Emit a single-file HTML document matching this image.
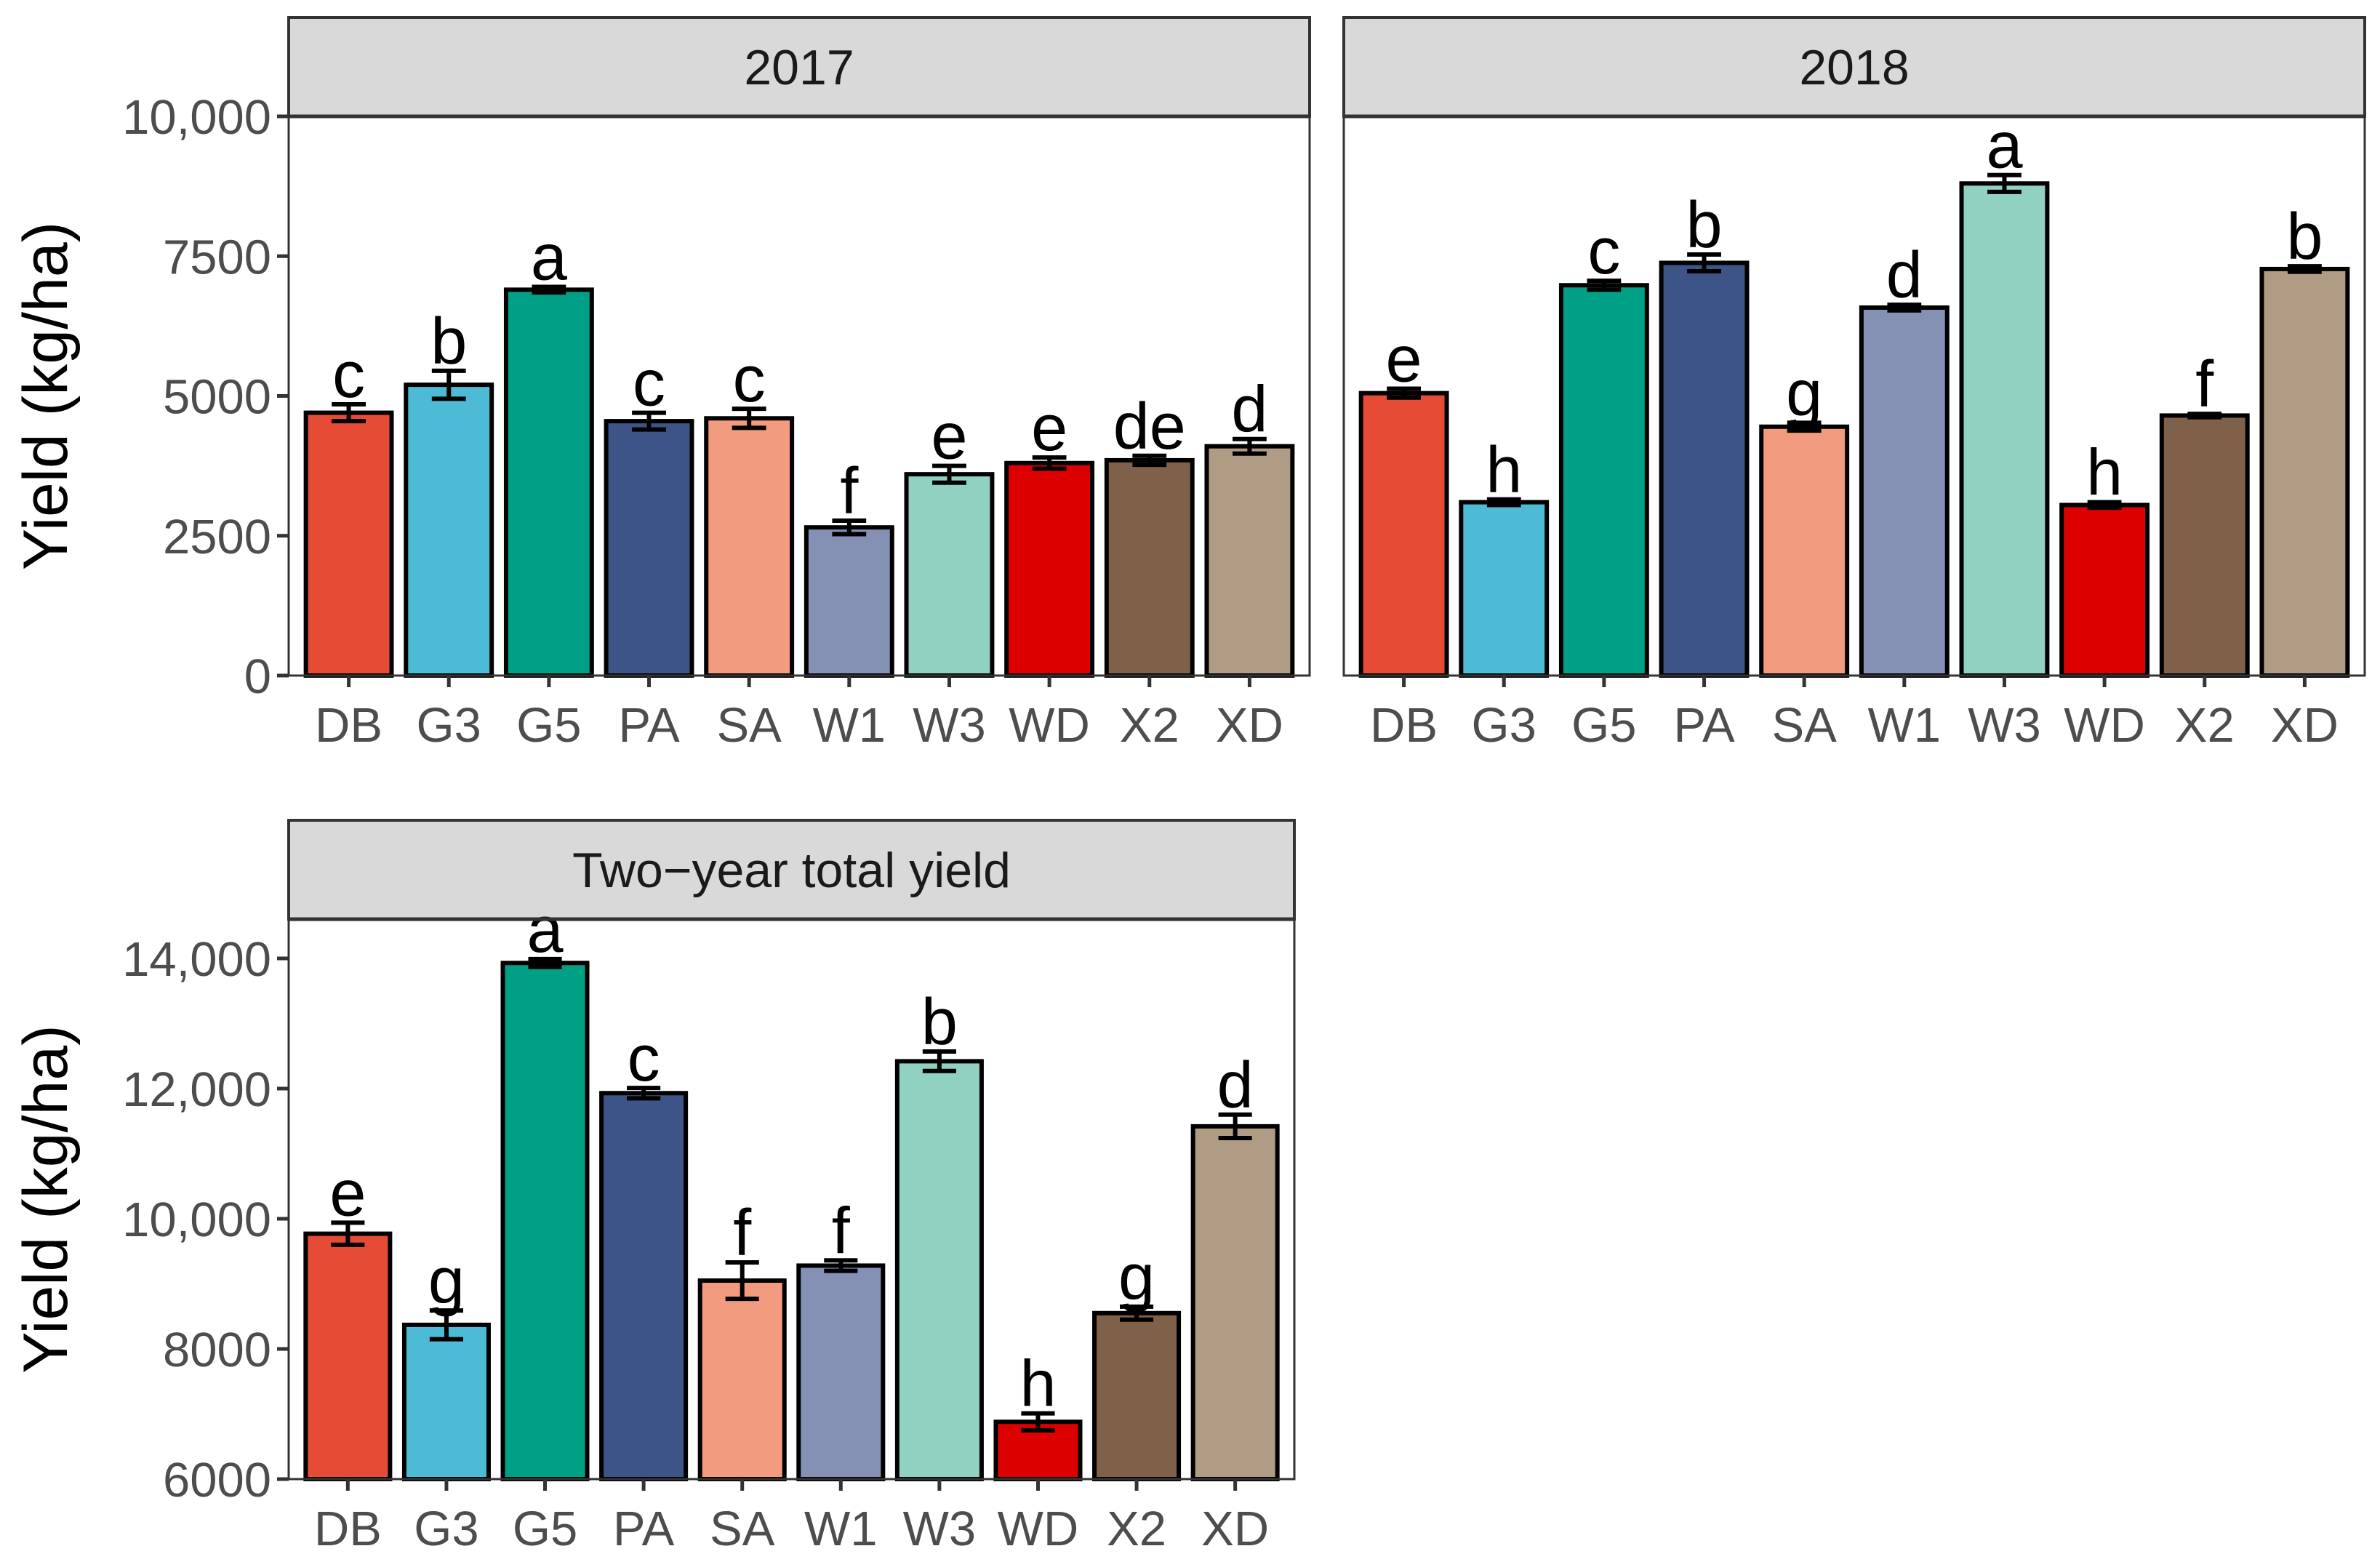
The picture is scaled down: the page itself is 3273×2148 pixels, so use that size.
<!DOCTYPE html>
<html><head><meta charset="utf-8"><style>
html,body{margin:0;padding:0;background:#fff}
svg{display:block}
text{font-family:"Liberation Sans",Arial,sans-serif}
</style></head><body>
<svg id="chart" width="3273" height="2148" viewBox="0 0 3273 2148" xmlns="http://www.w3.org/2000/svg"></svg>
<script>
const categories = ["DB","G3","G5","PA","SA","W1","W3","WD","X2","XD"];
const colors = ["#E64B35","#4DBBD5","#00A087","#3C5488","#F39B7F","#8491B4","#91D1C2","#DC0000","#7E6148","#B09C85"];
const yield2017 = [4700,5200,6900,4550,4600,2650,3600,3800,3850,4100];
const err2017 = [150,250,50,150,170,120,150,100,80,130];
const letters2017 = ["c","b","a","c","c","f","e","e","de","d"];
const yield2018 = [5050,3100,6980,7380,4450,6580,8800,3050,4650,7270];
const err2018 = [80,50,80,150,70,50,150,50,30,50];
const letters2018 = ["e","h","c","b","g","d","a","h","f","b"];
const yieldTotal = [9770,8370,13930,11930,9050,9280,12420,6880,8550,11420];
const errTotal = [170,220,60,80,280,80,150,130,100,180];
const lettersTotal = ["e","g","a","c","f","f","b","h","g","d"];
const ticksTop = [0,2500,5000,7500,10000];
const tickLabelsTop = ["0","2500","5000","7500","10,000"];
const ticksBottom = [6000,8000,10000,12000,14000];
const tickLabelsBottom = ["6000","8000","10,000","12,000","14,000"];

const NS = "http://www.w3.org/2000/svg";
const svg = document.getElementById("chart");
function mk(tag, attrs, parent, txt){
  const e = document.createElementNS(NS, tag);
  for (const k in attrs) e.setAttribute(k, attrs[k]);
  if (txt !== undefined) e.textContent = txt;
  (parent||svg).appendChild(e);
  return e;
}

function panel(cfg){
  const g = mk("g", {});
  
  
  const {x0,x1,stripTop,top,bottom,vmin,vmax} = cfg;
  const y = v => bottom - (v - vmin) / (vmax - vmin) * (bottom - top);
  const unit = (x1 - x0) / 10.2;
  const xc = i => x0 + (i + 0.6) * unit;
  const strip = mk("rect", {x:x0, y:stripTop, width:x1-x0, height:top-stripTop, fill:"#d9d9d9", stroke:"#333", "stroke-width":4}, g);
  
  
  const st = mk("text", {x:(x0+x1)/2, y:stripTop + (top-stripTop)/2 + 24, "text-anchor":"middle", "font-size":68, fill:"#1a1a1a"}, g, cfg.title);
  
  
  for (let i = 0; i < categories.length; i++){
    const v = cfg.vals[i], e = cfg.errs[i];
    const bw = unit * 0.9;
    const r = mk("rect", {x:xc(i)-bw/2+3, y:y(v), width:bw-6, height:y(vmin)-y(v), fill:colors[i], stroke:"#000", "stroke-width":6}, g);
    
    
    const cw = unit * 0.17;
    const eb = mk("path", {d:`M${xc(i)-cw},${y(v+e)}H${xc(i)+cw}M${xc(i)},${y(v+e)}V${y(v-e)}M${xc(i)-cw},${y(v-e)}H${xc(i)+cw}`, stroke:"#000", "stroke-width":6, fill:"none"}, g);
    
    
    const lt = mk("text", {x:xc(i), y:y(v+e) - 10, "text-anchor":"middle", "font-size":90, fill:"#000"}, g, cfg.letters[i]);
    
    
    mk("line", {x1:xc(i), x2:xc(i), y1:bottom, y2:bottom+16, stroke:"#333", "stroke-width":5}, g);
    const xl = mk("text", {x:xc(i), y:bottom + 91, "text-anchor":"middle", "font-size":67, fill:"#4d4d4d"}, g, categories[i]);
    
    
  }
  const pb = mk("rect", {x:x0, y:top, width:x1-x0, height:bottom-top, fill:"none", stroke:"#333", "stroke-width":3}, g);
  
  
  mk("line", {x1:x0, x2:x1, y1:top, y2:top, stroke:"#333", "stroke-width":5}, g);
  if (cfg.ticks){
    for (let k = 0; k < cfg.ticks.length; k++){
      const ty = y(cfg.ticks[k]);
      mk("line", {x1:x0-16, x2:x0, y1:ty, y2:ty, stroke:"#333", "stroke-width":5}, g);
      const tl = mk("text", {x:x0-24, y:ty+24, "text-anchor":"end", "font-size":67, fill:"#4d4d4d"}, g, cfg.tickLabels[k]);
      
      
    }
    const yt = mk("text", {x:0, y:0, transform:`translate(92,${(top+bottom)/2}) rotate(-90)`, "text-anchor":"middle", "font-size":86, fill:"#000"}, g, "Yield (kg/ha)");
    
    
  }
}

panel({name:"panel-2017", title:"2017", x0:397, x1:1801, stripTop:24, top:160, bottom:929, vmin:0, vmax:10000, vals:yield2017, errs:err2017, letters:letters2017, ticks:ticksTop, tickLabels:tickLabelsTop});
panel({name:"panel-2018", title:"2018", x0:1848, x1:3252, stripTop:24, top:160, bottom:929, vmin:0, vmax:10000, vals:yield2018, errs:err2018, letters:letters2018});
panel({name:"panel-total", title:"Two\u2212year total yield", x0:397, x1:1780, stripTop:1128, top:1264, bottom:2034, vmin:6000, vmax:14603, vals:yieldTotal, errs:errTotal, letters:lettersTotal, ticks:ticksBottom, tickLabels:tickLabelsBottom});
</script>
</body></html>
